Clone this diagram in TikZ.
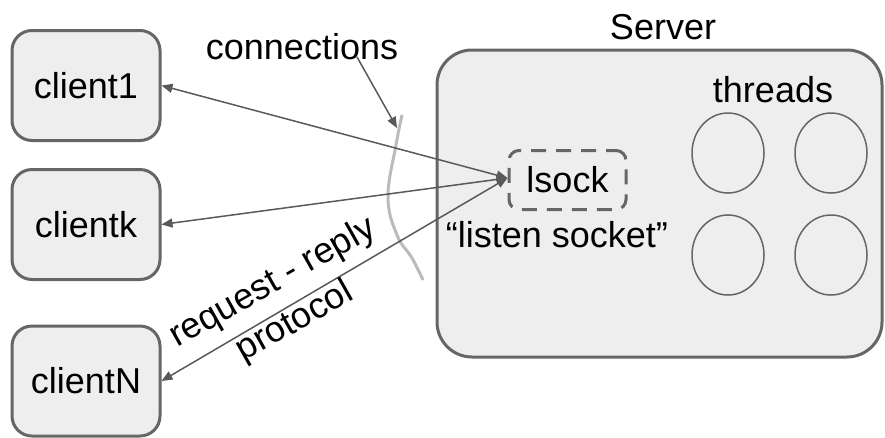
\documentclass[tikz,border=0pt]{standalone}
\usepackage{fontspec}
\setmainfont{Liberation Sans}
\usetikzlibrary{arrows.meta,shapes.geometric}
\definecolor{boxfill}{HTML}{EEEEEE}
\definecolor{boxline}{HTML}{666666}
\definecolor{arrowc}{HTML}{595959}
\definecolor{connc}{HTML}{BBBBBB}
\tikzset{
  txt/.style={font=\fontsize{36}{40}\selectfont, inner sep=0pt},
  clientbox/.style={draw=boxline, fill=boxfill, line width=3pt, rounded corners=20pt,
    minimum width=148pt, minimum height=110pt, inner sep=0pt, font=\fontsize{36}{40}\selectfont},
  threadc/.style={draw=boxline, ellipse, line width=1.5pt, minimum width=72pt, minimum height=80pt, inner sep=0pt},
  link/.style={draw=arrowc, line width=1.5pt, {Triangle[length=11pt,width=9pt]}-{Triangle[length=11pt,width=9pt]}},
  onelink/.style={draw=arrowc, line width=1.5pt, -{Triangle[length=11pt,width=9pt]}}
}
\begin{document}
\begin{tikzpicture}[x=1pt,y=-1pt]
\useasboundingbox (0,0) rectangle (885,437);
% server
\node[draw=boxline, fill=boxfill, line width=3pt, rounded corners=35pt,
      minimum width=445pt, minimum height=307pt, inner sep=0pt] (server) at (659.5,203.5) {};
\node[txt] (serverlbl) at (663,27) {Server};
\node[txt] (threads) at (773,90) {threads};
\node[threadc] (t1) at (728,153) {};
\node[threadc] (t2) at (831,153) {};
\node[threadc] (t3) at (728,255) {};
\node[threadc] (t4) at (831,255) {};
\node[draw=boxline, line width=3pt, dash pattern=on 15pt off 10pt, dash phase=5pt, rounded corners=10pt,
      minimum width=117pt, minimum height=59pt, inner sep=0pt, font=\fontsize{36}{40}\selectfont] (lsock) at (567.5,180) {lsock};
\node[txt] (lsocklbl) at (557,235) {“listen socket”};
% clients
\node[clientbox] (c1) at (86,85.5) {client1};
\node[clientbox] (ck) at (86,224.5) {clientk};
\node[clientbox] (cn) at (86,381) {clientN};
% connections curve
\draw[connc, line width=3pt] plot[smooth, tension=0.7] coordinates {(402,115) (396,145) (388,197) (397,235) (412,258) (423,280)};
\node[txt] (conn) at (302,47) {connections};
\coordinate (cs) at (357,57);
\coordinate (ce) at (397,128);
\draw[onelink] (cs) -- (ce);
% links
\coordinate (lin) at ([yshift=2pt]lsock.west);
\draw[link] (c1.east) -- (lin);
\draw[link] (ck.east) -- (lin);
\draw[link] (cn.east) -- (lin);
\node[txt, rotate=29.5] (rr) at (273,283) {request - reply};
\node[txt, rotate=29.5] (proto) at (295,322) {protocol};
\end{tikzpicture}
\end{document}
